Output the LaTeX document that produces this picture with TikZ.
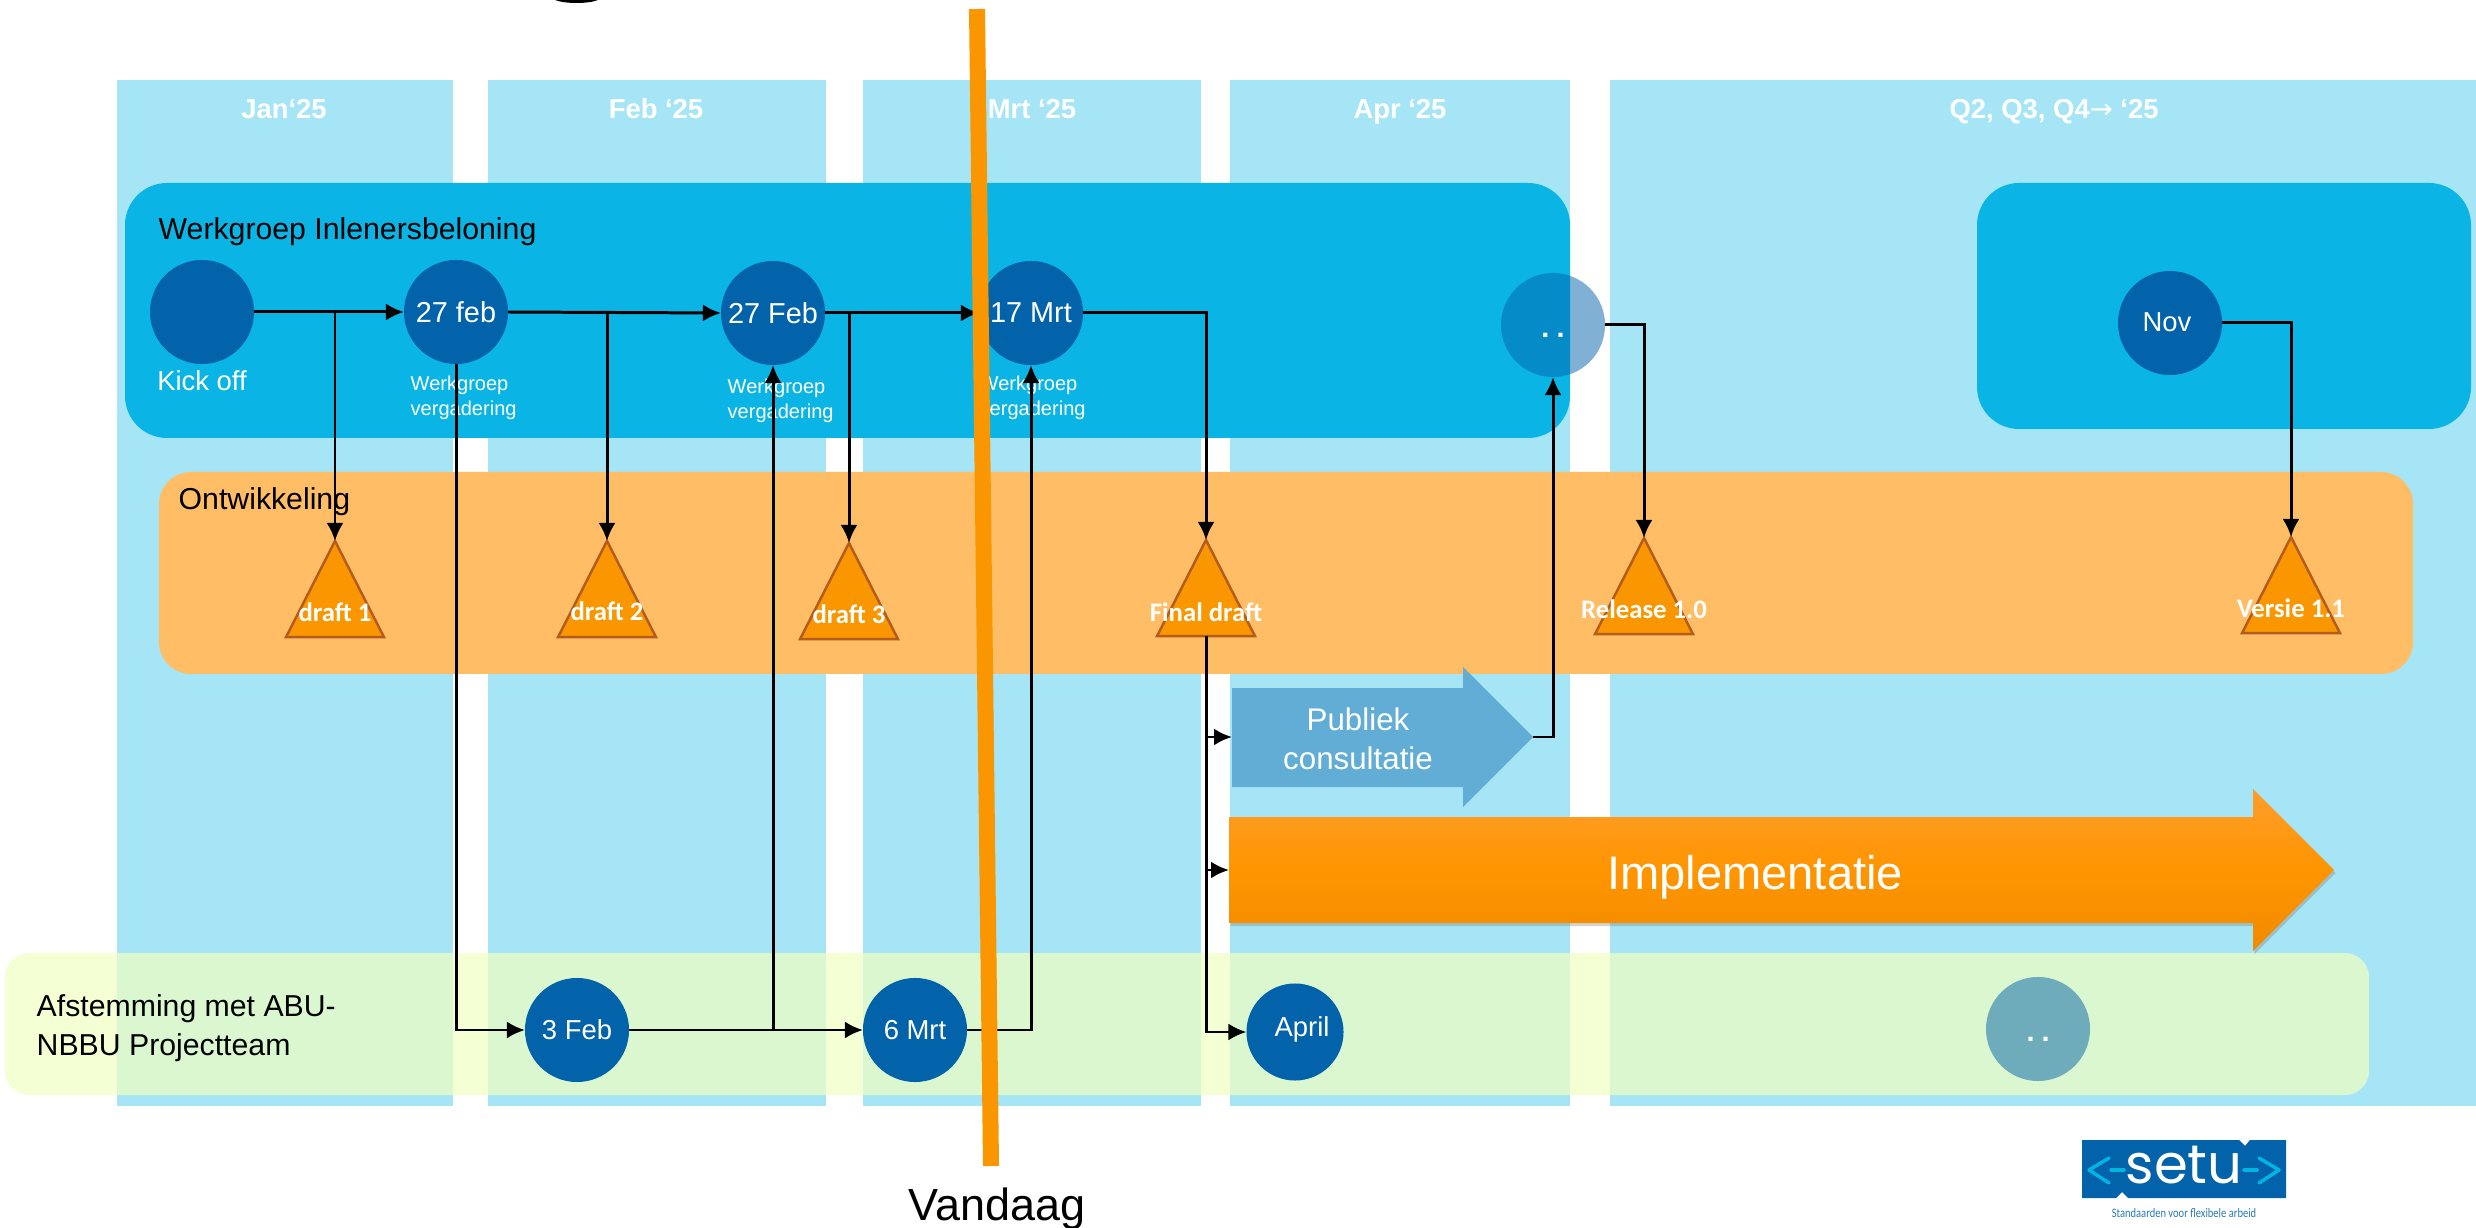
\documentclass[tikz,border=0pt]{standalone}
\usepackage{fontspec}
\setmainfont{Liberation Sans}
\newfontfamily\carlito{Carlito}
\newfontfamily\carlitosmal[FakeStretch=0.81]{Carlito}
\newfontfamily\dejavu{DejaVu Sans}
\newfontfamily\poppins{Poppins}
\usetikzlibrary{arrows.meta,calc,shadows,shapes.geometric}
\definecolor{maand}{RGB}{166, 229, 246}
\definecolor{werkgroep}{RGB}{10, 181, 229}
\definecolor{ontwikkel}{RGB}{255, 190, 102}
\definecolor{afstem}{RGB}{240, 255, 195}
\definecolor{donkerblauw}{RGB}{2, 98, 170}
\definecolor{driehoek}{RGB}{250, 150, 0}
\definecolor{driehoekrand}{RGB}{179, 92, 30}
\definecolor{publiek}{RGB}{98, 173, 213}
\definecolor{setucyaan}{RGB}{0, 181, 226}
\definecolor{impboven}{RGB}{255, 157, 44}
\definecolor{impmidden}{RGB}{255, 149, 0}
\definecolor{imponder}{RGB}{240, 138, 0}
\newcommand{\fsz}[2]{\fontsize{#1pt}{#2pt}\selectfont}

\begin{document}
\begin{tikzpicture}[x=0.01cm, y=-0.01cm]
		\useasboundingbox (0, 0) rectangle (2476, 1228);

		% STYLES
		\tikzstyle{kolom} = [fill=maand, draw=none]
		\tikzstyle{kop} = [anchor=base, text=white, font=\fsz{7.8}{9}\bfseries]
		\tikzstyle{rond} = [circle, fill=donkerblauw, draw=none, minimum size=1.04cm, inner sep=0, outer sep=0, text=white, font=\fsz{8.2}{10}]
		\tikzstyle{rondje} = [rond, fill opacity=0.5, text opacity=1]
		\tikzstyle{witkort} = [text=white, font=\fsz{7.8}{10}]
		\tikzstyle{titel} = [anchor=west, align=left, inner sep=0, text=black, font=\fsz{8.6}{11.1}]
		\tikzstyle{klein} = [anchor=west, align=left, inner sep=0, text=white, font=\fsz{5.7}{7.2}]
		\tikzstyle{drie} = [isosceles triangle, isosceles triangle apex angle=54, shape border rotate=90, minimum height=0.96cm, inner sep=0, outer sep=0, anchor=apex, fill=driehoek, draw=driehoekrand, line width=0.7pt]
		\tikzstyle{drietekst} = [text=white, font=\carlito\fsz{7.6}{9}\bfseries]
		\tikzstyle{fleche} = [line width=0.85pt, draw=black, -{Latex[length=0.18cm, width=0.17cm]}]

		% KOLOMMEN
		\foreach \xa/\xb in {117/453, 488/826, 863/1201, 1230/1570, 1610/2476}
			\path[kolom] (\xa, 80) rectangle (\xb, 1106);
		\foreach \x/\tekst in {284/Jan‘25, 656/Feb ‘25, 1032/Mrt ‘25, 1400/Apr ‘25, 2054/{Q2, Q3, Q4{\dejavu\mdseries →} ‘25}}
			\node[kop] at (\x, 119) {\tekst};

		% BANDEN
		\path[fill=werkgroep, rounded corners=0.42cm] (125, 183) rectangle (1570, 438);
		\path[fill=werkgroep, rounded corners=0.42cm] (1977, 183) rectangle (2471, 429);
		\path[fill=ontwikkel, rounded corners=0.32cm] (159, 472) rectangle (2413, 674);
		\path[fill=afstem, fill opacity=0.73, rounded corners=0.24cm] (5, 953) rectangle (2369, 1095);

		% ZWARTE BOOG BOVENAAN
		\fill[black] (555, 0) .. controls (565, 4) and (588, 4) .. (598, 0) -- cycle;

		% TITELS
		\node[titel] at (158, 232) {Werkgroep Inlenersbeloning};
		\node[titel] at (178, 502) {Ontwikkeling};
		\node[titel] at (36, 1028) {Afstemming met ABU-\\NBBU Projectteam};

		% RONDJES
		\node[rond] (kick) at (202, 312) {};
		\node[rond] (wg1) at (456, 312) {\raisebox{-0.015cm}{27 feb}};
		\node[rond] (wg2) at (773, 313) {27 Feb};
		\node[rond] (wg3) at (1031, 313) {\raisebox{-0.04cm}{17 Mrt}};
		\node[rondje] (puntjes) at (1553, 325) {\raisebox{-0.25cm}{\bfseries.\kern2pt.}};
		\node[rond] (nov) at (2170, 323) {};
		\node[witkort] at (2167, 322) {Nov};
		\node[rond, font=\fsz{7.8}{10}] (feb3) at (577, 1030) {3 Feb};
		\node[rond, font=\fsz{7.8}{10}] (mrt6) at (915, 1030) {6 Mrt};
		\node[rond, minimum size=0.97cm] (april) at (1295, 1032) {};
		\node[witkort] at (1302, 1029) {April};
		\node[rondje] (puntjes2) at (2038, 1029) {\raisebox{-0.25cm}{\bfseries.\kern2pt.}};

		\node[witkort] at (202, 381) {Kick off};
		\node[klein] at (410, 398) {Werkgroep\\vergadering};
		\node[klein] at (727, 401) {Werkgroep\\vergadering};
		\node[klein] at (979, 398) {Werkgroep\\vergadering};

		% DRIEHOEKEN
		\foreach \naam/\x/\y/\ty/\tekst in {d1/335/541/612/draft 1, d2/607/541/611/draft 2, d3/849/543/614/draft 3, fd/1206/540/612/Final draft, rel/1644/538/609/Release 1.0, v11/2291/537/608/Versie 1.1}
		{
			\node[drie] (\naam) at (\x, \y) {};
			\node[drietekst] at (\x, \ty) {\tekst};
		}

		% PIJLEN
		\path[fill=publiek] (1232, 688) -- (1463, 688) -- (1463, 667) -- (1533, 737) -- (1463, 807) -- (1463, 787) -- (1232, 787) -- cycle;
		\coordinate (pubin) at (1232, 737);
		\coordinate (pubuit) at (1533, 737);
		\node[text=white, align=center, font=\fsz{8.9}{11.1}] at (1358, 739) {Publiek\\consultatie};

		\path[top color=impboven, bottom color=imponder, middle color=impmidden,
			drop shadow={shadow xshift=0.015cm, shadow yshift=-0.03cm, opacity=0.35}]
			(1229, 817) -- (2253, 817) -- (2253, 789) -- (2334, 870) -- (2253, 951) -- (2253, 923) -- (1229, 923) -- cycle;
		\coordinate (impin) at (1229, 870);
		\node[text=white, font=\fsz{13.4}{15}] at (1755, 877) {Implementatie};

		% VERBINDINGEN
		\draw[fleche] (kick.east) -- (wg1.west);
		\draw[fleche] (wg1.east) -- (wg2.west);
		\draw[fleche] (wg2.east) -- (wg3.west);
		\draw[fleche] (kick.east -| d1.apex) -- (d1.apex);
		\draw[fleche] (wg1.east -| d2.apex) -- (d2.apex);
		\draw[fleche] (wg2.east -| d3.apex) -- (d3.apex);
		\draw[fleche] (wg3.east) -| (fd.apex);
		\draw[fleche] (wg1.south) |- (feb3.west);
		\draw[fleche] (feb3.east) -- (mrt6.west);
		\draw[fleche] (feb3.east -| wg2.south) -- (wg2.south);
		\draw[fleche] (mrt6.east) -| (wg3.south);
		\draw[fleche] (fd.lower side) |- (april.west);
		\draw[fleche] (fd.lower side |- pubin) -- (pubin);
		\draw[fleche] (fd.lower side |- impin) -- (impin);
		\draw[fleche] (pubuit) -| (puntjes.south);
		\draw[fleche] (puntjes.east) -| (rel.apex);
		\draw[fleche] (nov.east) -| (v11.apex);

		% VANDAAG
		\draw[line width=0.16cm, draw=driehoek] (977, 9) -- (991, 1166);
		\node[font=\fsz{12.8}{15}] at (997, 1209) {Vandaag};

		% LOGO
		\path[fill=donkerblauw] (2082, 1140) -- (2239, 1140) -- (2245, 1146) -- (2250, 1140) -- (2286, 1140) -- (2286, 1198) -- (2128, 1198) -- (2122, 1192) -- (2116, 1198) -- (2082, 1198) -- cycle;
		\node[text=white, font=\poppins\fsz{15.5}{17}] at (2184, 1165) {setu};
		\draw[setucyaan, line width=1pt, line cap=round, line join=round] (2109, 1158) -- (2089, 1170) -- (2109, 1183);
		\draw[setucyaan, line width=1pt, line cap=round] (2111, 1170) -- (2124, 1170);
		\draw[setucyaan, line width=1pt, line cap=round] (2244, 1170) -- (2257, 1170);
		\draw[setucyaan, line width=1pt, line cap=round, line join=round] (2259, 1158) -- (2279, 1170) -- (2259, 1183);
		\node[text=donkerblauw!85!white, font=\carlitosmal\fsz{3.7}{5}] at (2184, 1213) {Standaarden voor flexibele arbeid};
	\end{tikzpicture}
\end{document}
